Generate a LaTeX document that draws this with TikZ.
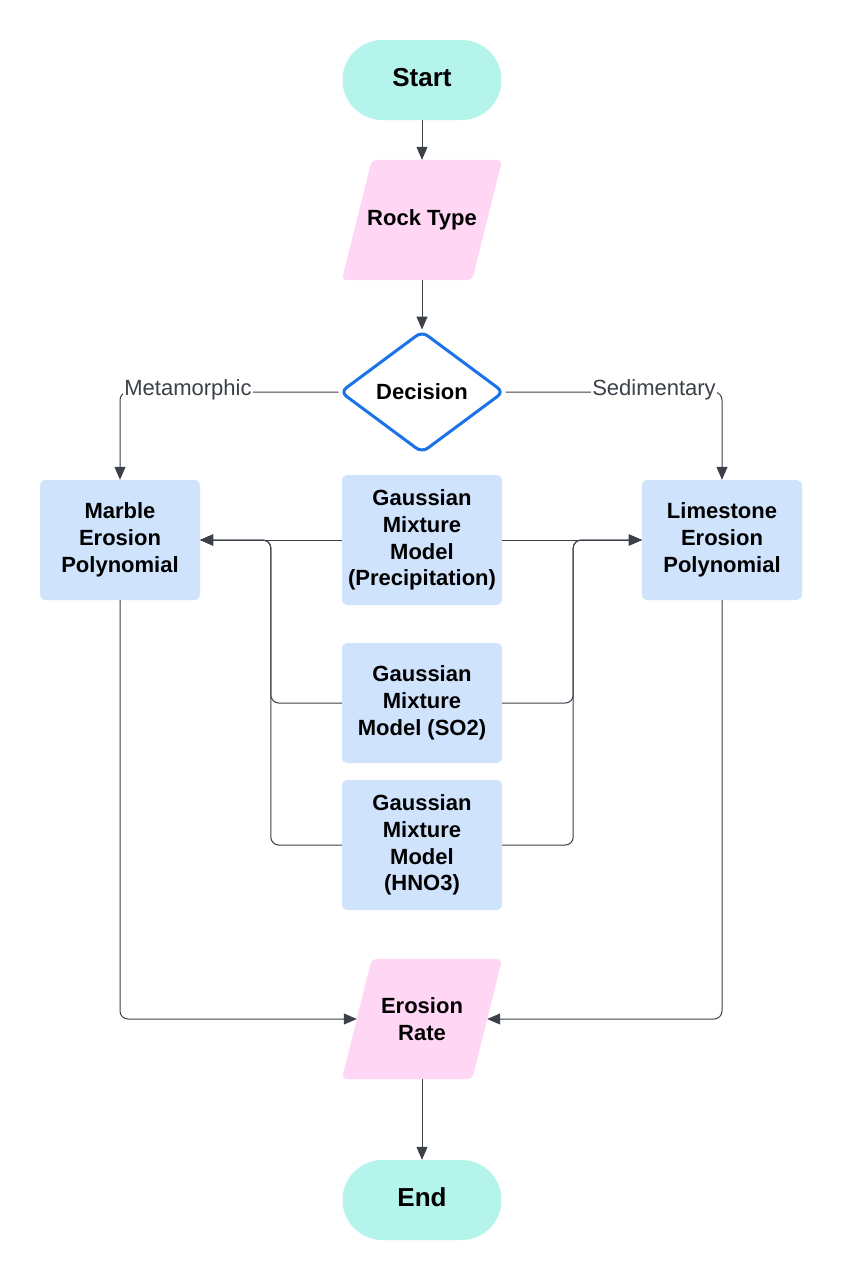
\documentclass[tikz,border=0pt]{standalone}
\usepackage{fontspec}
\setmainfont{Liberation Sans}
\usetikzlibrary{shapes.geometric,arrows.meta,calc,backgrounds}
\definecolor{mint}{HTML}{B4F4EA}
\definecolor{pinkio}{HTML}{FFD7F5}
\definecolor{bluebox}{HTML}{CFE3FC}
\definecolor{decblue}{HTML}{1A73E8}
\definecolor{linegray}{HTML}{3B4049}
\tikzset{
  terminal/.style={draw=none, fill=mint, rounded corners=40pt, minimum width=159pt, minimum height=80pt, inner sep=0pt, font=\bfseries\fontsize{26}{30}\selectfont, text=black},
  iotext/.style={draw=none, minimum width=130pt, minimum height=120pt, inner sep=0pt, font=\bfseries\fontsize{22}{26.7}\selectfont, align=center, text=black},
  iofill/.style={fill=pinkio, rounded corners=5pt},
  procbox/.style={draw=none, fill=bluebox, rounded corners=5pt, minimum width=160pt, inner sep=0pt, font=\bfseries\fontsize{22}{26.7}\selectfont, align=center, text=black},
  decbox/.style={draw=decblue, line width=3pt, fill=white, diamond, aspect=1.34, minimum width=164pt, minimum height=122pt, inner sep=0pt, rounded corners=7pt, font=\bfseries\fontsize{22}{26}\selectfont, text=black},
  conn/.style={draw=linegray, line width=1pt, rounded corners=8pt, -{Triangle[length=13pt,width=11pt]}},
  edgelabel/.style={fill=white, inner sep=1pt, text=linegray, font=\fontsize{22}{26}\selectfont}
}
\begin{document}
\begin{tikzpicture}[x=1pt,y=-1pt]
\useasboundingbox (0,0) rectangle (842,1280);
% nodes
\node[terminal] (start) at (422,80) {\strut Start};
\node[iotext] (rock) at (422,220) {Rock Type};
\node[decbox] (dec) at (422,392) {Decision};
\node[procbox, minimum height=120pt] (mar) at (120,540) {Marble\\Erosion\\Polynomial};
\node[procbox, minimum height=120pt] (lim) at (722,540) {Limestone\\Erosion\\Polynomial};
\node[procbox, minimum height=130pt] (gp) at (422,540) {Gaussian\\Mixture\\Model\\(Precipitation)};
\node[procbox, minimum height=120pt] (gs) at (422,703) {Gaussian\\Mixture\\Model (SO2)};
\node[procbox, minimum height=130pt] (gh) at (422,845) {Gaussian\\Mixture\\Model\\(HNO3)};
\node[iotext] (er) at (422,1019) {Erosion\\Rate};
\node[terminal] (end) at (422,1200) {\strut End};
\begin{scope}[on background layer]
  \fill[white] (0,0) rectangle (842,1280);
  \fill[iofill] ($(rock.south west)+(-15,0)$) -- ($(rock.north west)+(15,0)$) -- ($(rock.north east)+(15,0)$) -- ($(rock.south east)+(-15,0)$) -- cycle;
  \fill[iofill] ($(er.south west)+(-15,0)$) -- ($(er.north west)+(15,0)$) -- ($(er.north east)+(15,0)$) -- ($(er.south east)+(-15,0)$) -- cycle;
\end{scope}
% connectors
\draw[conn] (start.south) -- (rock.north);
\draw[conn] (rock.south) -- (dec.north);
\draw[conn] (dec.west) -| (mar.north);
\draw[conn] (dec.east) -| (lim.north);
\node[edgelabel] (lmeta) at (188,390) {Metamorphic};
\node[edgelabel] (lsed) at (654,390) {Sedimentary};
\draw[conn] (gp.west) -- (mar.east);
\draw[conn] (gs.west) -- ++(-71,0) |- (mar.east);
\draw[conn] (gh.west) -- ++(-71,0) |- (mar.east);
\draw[conn] (gp.east) -- (lim.west);
\draw[conn] (gs.east) -- ++(71,0) |- (lim.west);
\draw[conn] (gh.east) -- ++(71,0) |- (lim.west);
\draw[conn] (mar.south) |- (er.west);
\draw[conn] (lim.south) |- (er.east);
\draw[conn] (er.south) -- (end.north);
\end{tikzpicture}
\end{document}
